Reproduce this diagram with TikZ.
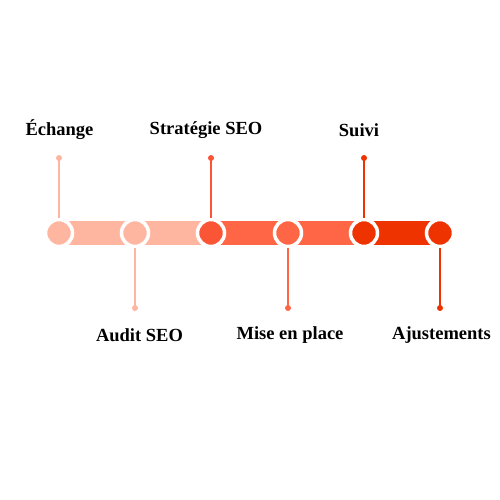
\documentclass[tikz,border=0pt]{standalone}
\usepackage{fontspec}
\setmainfont{Liberation Serif}
\definecolor{cLight}{HTML}{FFB6A0}
\definecolor{cMid}{HTML}{FF6645}
\definecolor{cMidDark}{HTML}{FA5636}
\definecolor{cDark}{HTML}{EE3300}
\begin{document}
\begin{tikzpicture}[x=1pt,y=1pt,
  stepdot/.style={circle,inner sep=0pt,minimum size=27pt,draw=white,line width=3.5pt,fill=#1},
  tipdot/.style={circle,inner sep=0pt,minimum size=6pt,fill=#1},
  stem/.style={line width=2pt,draw=#1},
  lbl/.style={font=\bfseries\fontsize{18.5}{20}\selectfont,text=black}]
\useasboundingbox (0,0) rectangle (500,500);
\fill[white] (0,0) rectangle (500,500);
% bar segments
\fill[cLight] (59,255) rectangle (211,279);
\fill[cMid] (211,255) rectangle (364,279);
\fill[cDark] (364,255) rectangle (440,279);
% circles
\node[stepdot=cLight] (c1) at (59,267) {};
\node[stepdot=cLight] (c2) at (135,267) {};
\node[stepdot=cMidDark] (c3) at (211,267) {};
\node[stepdot=cMid] (c4) at (288,267) {};
\node[stepdot=cDark] (c5) at (364,267) {};
\node[stepdot=cDark] (c6) at (440,267) {};
% dots
\node[tipdot=cLight] (d1) at (59,342) {};
\node[tipdot=cLight] (d2) at (135,192) {};
\node[tipdot=cMidDark] (d3) at (211,342) {};
\node[tipdot=cMid] (d4) at (288,192) {};
\node[tipdot=cDark] (d5) at (364,342) {};
\node[tipdot=cDark] (d6) at (440,192) {};
% stems
\draw[stem=cLight] (d1.center) -- (c1.north);
\draw[stem=cLight] (d2.center) -- (c2.south);
\draw[stem=cMidDark] (d3.center) -- (c3.north);
\draw[stem=cMid] (d4.center) -- (c4.south);
\draw[stem=cDark] (d5.center) -- (c5.north);
\draw[stem=cDark] (d6.center) -- (c6.south);
% labels
\node[lbl] (l1) at (59.5,370) {Échange};
\node[lbl] (l2) at (139.5,165) {Audit SEO};
\node[lbl] (l3) at (206,370) {Stratégie SEO};
\node[lbl] (l4) at (290,165) {Mise en place};
\node[lbl] (l5) at (359,370) {Suivi};
\node[lbl] (l6) at (441.5,165) {Ajustements};
\end{tikzpicture}
\end{document}
